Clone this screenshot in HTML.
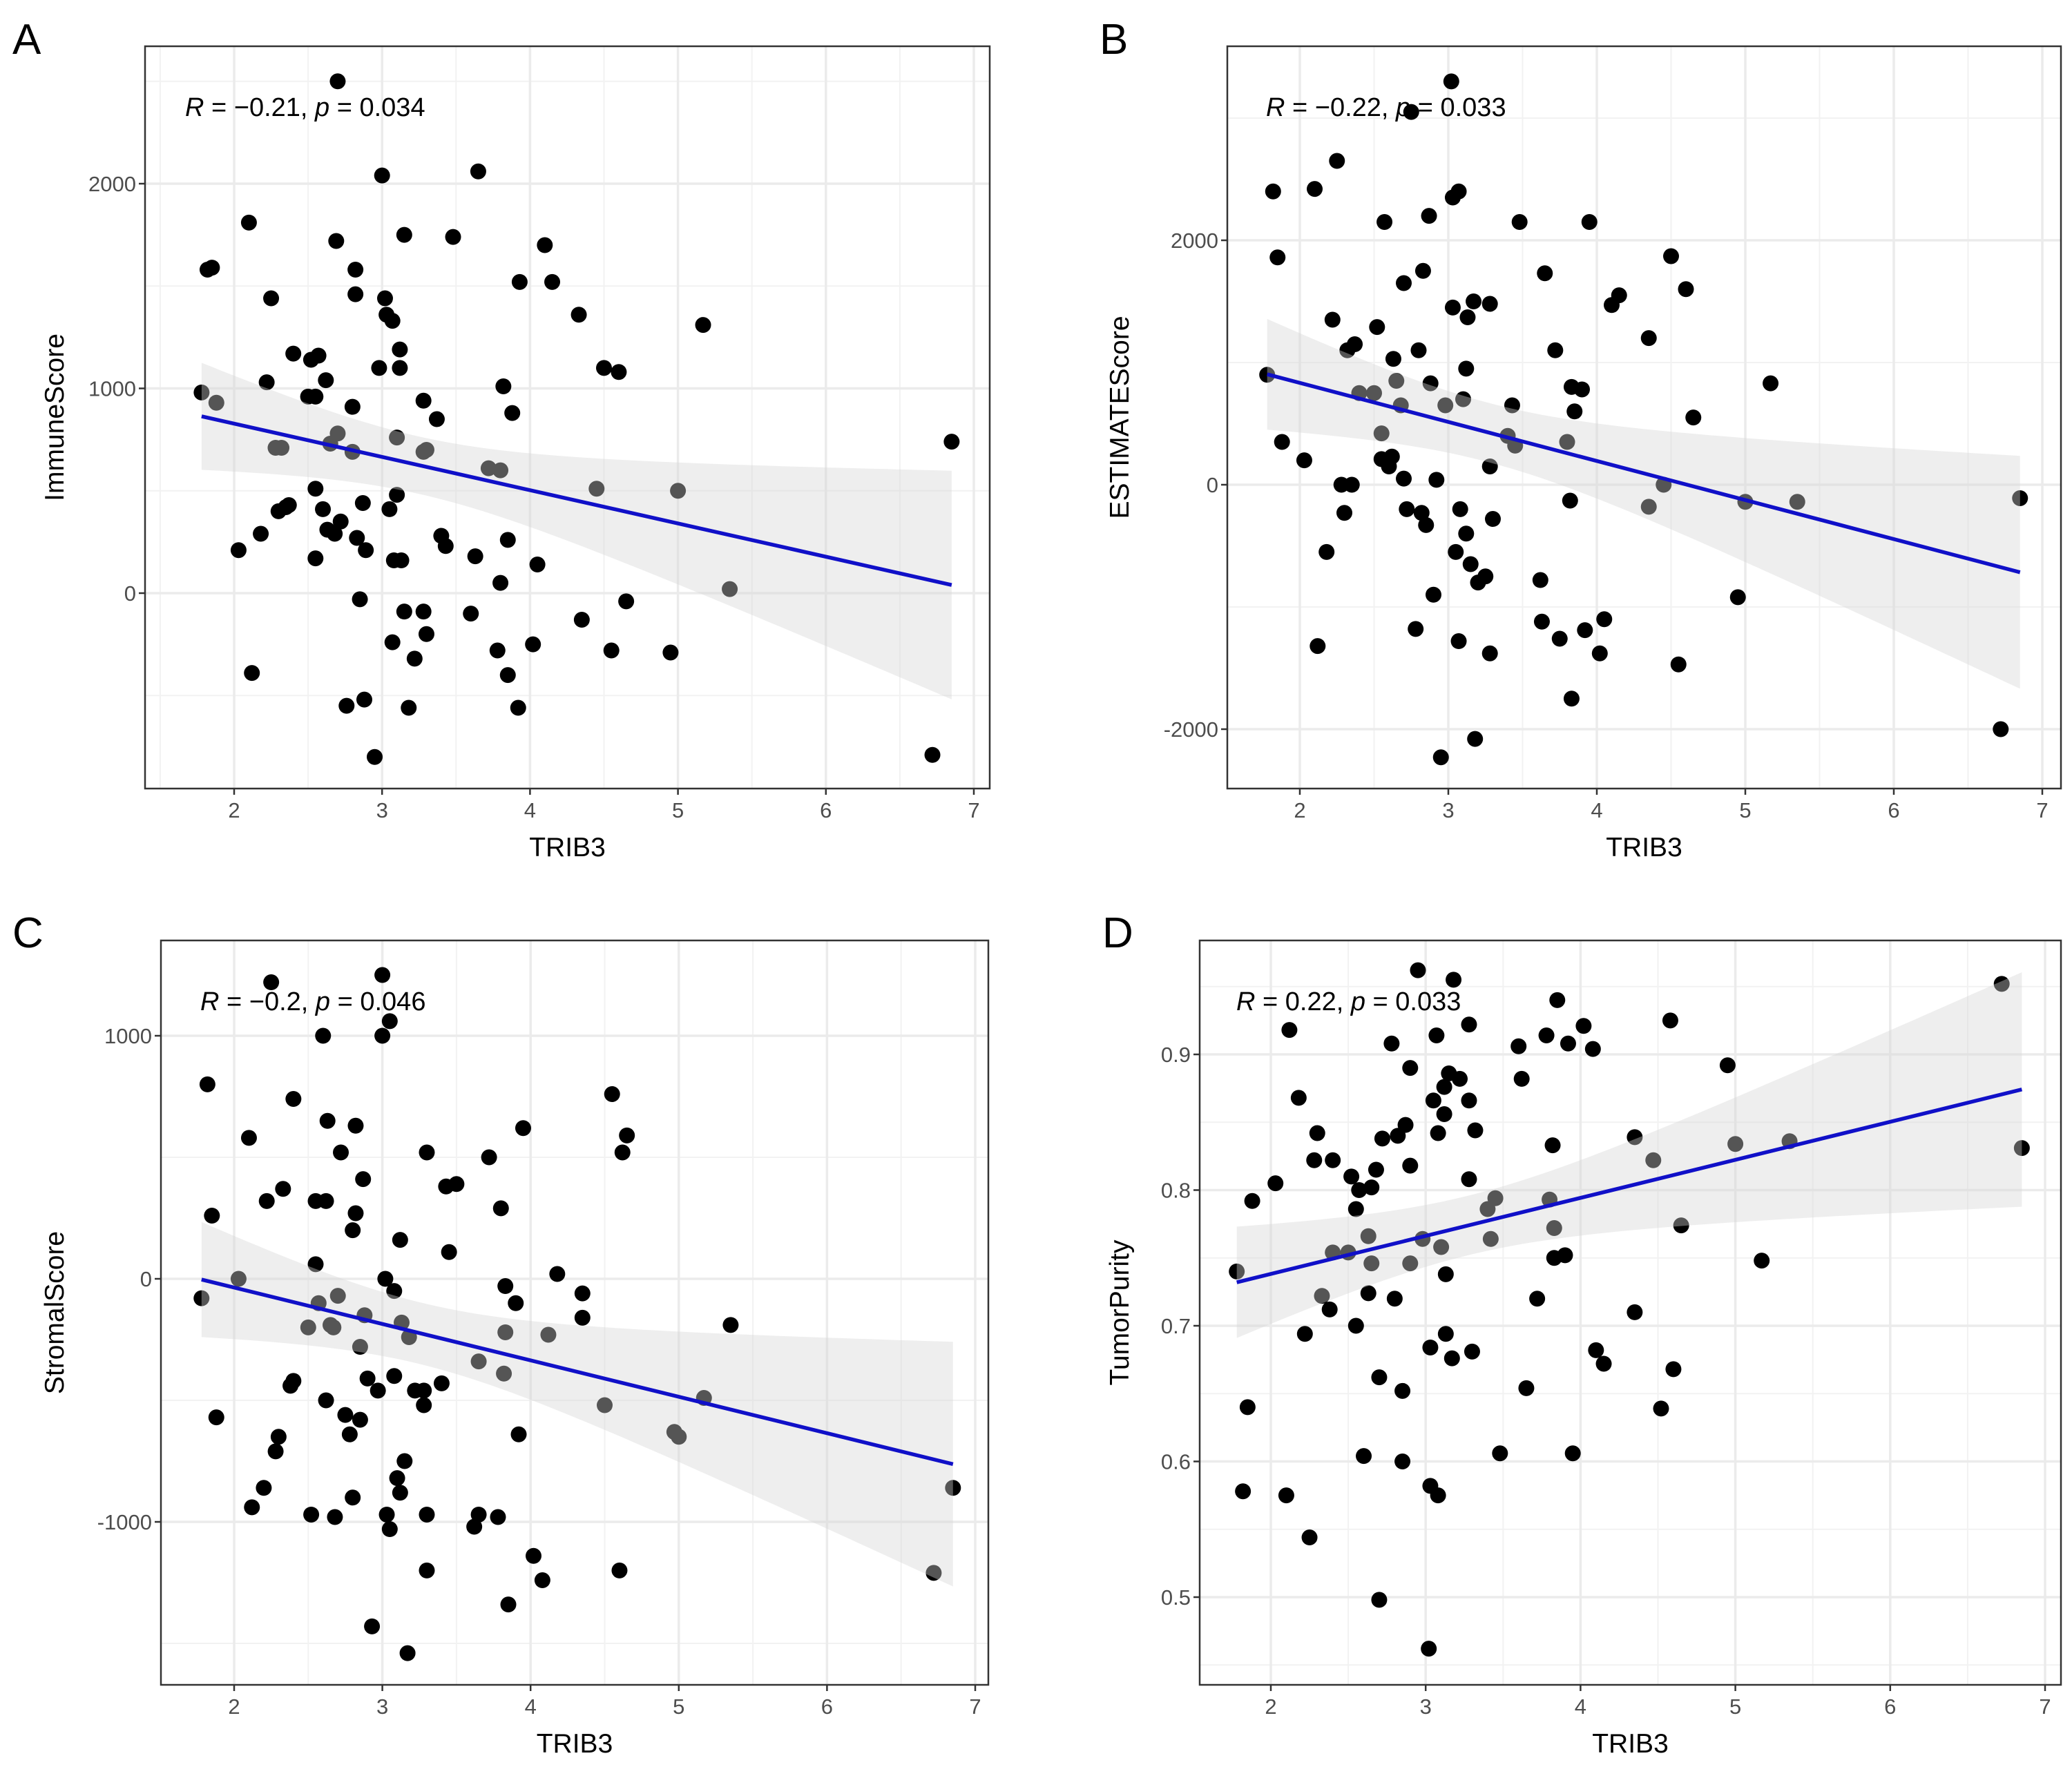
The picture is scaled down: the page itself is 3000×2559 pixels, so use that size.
<!DOCTYPE html>
<html><head><meta charset="utf-8"><style>
html,body{margin:0;padding:0;background:#fff;}
svg{display:block;font-family:"Liberation Sans",sans-serif;}
</style></head><body>
<svg id="fig" width="3000" height="2559" viewBox="0 0 3000 2559" xmlns="http://www.w3.org/2000/svg"></svg>
<script>
// ---- Data (TRIB3 expression vs scores) ----
const aX=[1.78,1.82,1.85,1.88,2.03,2.1,2.12,2.18,2.22,2.25,2.28,2.3,2.32,2.35,2.37,2.4,2.5,2.52,2.55,2.55,2.55,2.57,2.6,2.62,2.63,2.65,2.68,2.69,2.7,2.7,2.72,2.76,2.8,2.8,2.82,2.82,2.83,2.85,2.87,2.88,2.89,2.95,2.98,3.0,3.02,3.03,3.05,3.07,3.07,3.08,3.1,3.1,3.12,3.12,3.13,3.15,3.15,3.18,3.22,3.28,3.28,3.28,3.3,3.3,3.37,3.4,3.43,3.48,3.6,3.63,3.65,3.72,3.78,3.8,3.8,3.82,3.85,3.85,3.88,3.92,3.93,4.02,4.05,4.1,4.15,4.33,4.35,4.45,4.5,4.55,4.6,4.65,4.95,5.0,5.17,5.35,6.72,6.85];
const aY=[980,1580,1590,930,210,1810,-390,290,1030,1440,710,400,710,420,430,1170,960,1140,960,510,170,1160,410,1040,310,730,290,1720,2500,780,350,-550,910,690,1580,1460,270,-30,440,-520,210,-800,1100,2040,1440,1360,410,1330,-240,160,480,760,1100,1190,160,1750,-90,-560,-320,940,690,-90,700,-200,850,280,230,1740,-100,180,2060,610,-280,50,600,1010,260,-400,880,-560,1520,-250,140,1700,1520,1360,-130,510,1100,-280,1080,-40,-290,500,1310,20,-790,740];
const bX=[1.78,1.82,1.85,1.88,2.03,2.1,2.12,2.18,2.22,2.25,2.28,2.3,2.32,2.35,2.37,2.4,2.5,2.52,2.55,2.55,2.57,2.6,2.62,2.63,2.65,2.68,2.7,2.7,2.72,2.75,2.78,2.8,2.82,2.83,2.85,2.87,2.88,2.9,2.92,2.95,2.98,3.02,3.03,3.03,3.05,3.07,3.07,3.08,3.1,3.12,3.12,3.13,3.15,3.17,3.18,3.2,3.25,3.28,3.28,3.28,3.3,3.4,3.43,3.45,3.48,3.62,3.63,3.65,3.72,3.75,3.8,3.82,3.83,3.83,3.85,3.9,3.92,3.95,4.02,4.05,4.1,4.15,4.35,4.35,4.45,4.5,4.55,4.6,4.65,4.95,5.0,5.17,5.35,6.72,6.85];
const bY=[900,2400,1860,350,200,2420,-1320,-550,1350,2650,0,-230,1100,0,1150,750,750,1290,210,420,2150,150,230,1030,850,650,1650,50,-200,3050,-1180,1100,-230,1750,-330,2200,830,-900,40,-2230,650,3300,1450,2350,-550,2400,-1280,-200,700,-400,950,1370,-650,1500,-2080,-800,-750,1480,150,-1380,-280,400,650,320,2150,-780,-1120,1730,1100,-1260,350,-130,800,-1750,600,780,-1190,2150,-1380,-1100,1470,1550,1200,-180,0,1870,-1470,1600,550,-920,-140,830,-140,-2000,-110];
const cX=[1.78,1.82,1.85,1.88,2.03,2.1,2.12,2.2,2.22,2.25,2.28,2.3,2.33,2.38,2.4,2.4,2.5,2.52,2.55,2.55,2.57,2.6,2.62,2.62,2.63,2.65,2.67,2.68,2.7,2.72,2.75,2.78,2.8,2.8,2.82,2.82,2.85,2.85,2.87,2.88,2.9,2.93,2.97,3.0,3.0,3.02,3.03,3.05,3.05,3.08,3.08,3.1,3.12,3.12,3.13,3.15,3.17,3.18,3.22,3.28,3.28,3.3,3.3,3.3,3.4,3.43,3.45,3.5,3.62,3.65,3.65,3.72,3.78,3.8,3.82,3.83,3.83,3.85,3.9,3.92,3.95,4.02,4.08,4.12,4.18,4.35,4.35,4.5,4.55,4.6,4.62,4.65,4.97,5.0,5.17,5.35,6.72,6.85];
const cY=[-80,800,260,-570,0,580,-940,-860,320,1220,-710,-650,370,-440,740,-420,-200,-970,60,320,-100,1000,320,-500,650,-190,-200,-980,-70,520,-560,-640,200,-900,270,630,-280,-580,410,-150,-410,-1430,-460,1250,1000,0,-970,1060,-1030,-400,-50,-820,-880,160,-180,-750,-1540,-240,-460,-460,-520,-970,520,-1200,-430,380,110,390,-1020,-970,-340,500,-980,290,-390,-30,-220,-1340,-100,-640,620,-1140,-1240,-230,20,-60,-160,-520,760,-1200,520,590,-630,-650,-490,-190,-1210,-860];
const dX=[1.78,1.82,1.85,1.88,2.03,2.1,2.12,2.18,2.22,2.25,2.28,2.3,2.33,2.38,2.4,2.4,2.5,2.52,2.55,2.55,2.57,2.6,2.63,2.63,2.65,2.65,2.68,2.7,2.7,2.72,2.78,2.8,2.82,2.85,2.85,2.87,2.9,2.9,2.9,2.95,2.98,3.02,3.03,3.03,3.05,3.07,3.08,3.08,3.1,3.12,3.12,3.13,3.13,3.15,3.17,3.18,3.22,3.28,3.28,3.28,3.3,3.32,3.4,3.42,3.45,3.48,3.6,3.62,3.65,3.72,3.78,3.8,3.82,3.83,3.83,3.85,3.9,3.92,3.95,4.02,4.08,4.1,4.15,4.35,4.35,4.47,4.52,4.58,4.6,4.65,4.95,5.0,5.17,5.35,6.72,6.85];
const dY=[0.740,0.578,0.640,0.792,0.805,0.575,0.918,0.868,0.694,0.544,0.822,0.842,0.722,0.712,0.822,0.754,0.754,0.810,0.700,0.786,0.800,0.604,0.724,0.766,0.746,0.802,0.815,0.498,0.662,0.838,0.908,0.720,0.840,0.600,0.652,0.848,0.818,0.890,0.746,0.962,0.764,0.462,0.582,0.684,0.866,0.914,0.575,0.842,0.758,0.856,0.876,0.738,0.694,0.886,0.676,0.955,0.882,0.866,0.808,0.922,0.681,0.844,0.786,0.764,0.794,0.606,0.906,0.882,0.654,0.720,0.914,0.793,0.833,0.772,0.750,0.940,0.752,0.908,0.606,0.921,0.904,0.682,0.672,0.839,0.710,0.822,0.639,0.925,0.668,0.774,0.892,0.834,0.748,0.836,0.952,0.831];
const xTicks=[2,3,4,5,6,7];
const aTicks=[0,1000,2000], bTicks=[-2000,0,2000], cTicks=[-1000,0,1000], dTicks=[0.5,0.6,0.7,0.8,0.9];
const aLabels=["0","1000","2000"], bLabels=["-2000","0","2000"], cLabels=["-1000","0","1000"], dLabels=["0.5","0.6","0.7","0.8","0.9"];

const NS="http://www.w3.org/2000/svg";
const svg=document.getElementById('fig');
function mk(tag,attrs,parent){const e=document.createElementNS(NS,tag);for(const k in attrs)e.setAttribute(k,attrs[k]);(parent||svg).appendChild(e);return e;}

function panel(o){
  const g=mk('g',{});
  
  
  const sx=v=>o.x0p+(v-o.x0v)*(o.x1p-o.x0p)/(o.x1v-o.x0v);
  const sy=v=>o.y0p+(v-o.y0v)*(o.y1p-o.y0p)/(o.y1v-o.y0v);
  const L=o.box[0],T=o.box[1],R=o.box[2],B=o.box[3];
  mk('rect',{x:L,y:T,width:R-L,height:B-T,fill:'#fff'},g);
  const yStep=o.yt[1]-o.yt[0];
  const invy=p=>o.y0v+(p-o.y0p)*(o.y1v-o.y0v)/(o.y1p-o.y0p);
  const yh=Math.max(invy(B),invy(T));
  for(let v=1.5;v<=7.5;v+=1){const p=sx(v);if(p>L&&p<R)mk('line',{x1:p,x2:p,y1:T,y2:B,stroke:'#F2F2F2','stroke-width':2},g);}
  for(let v=o.yt[0]-yStep*2+yStep/2;v<=yh+yStep;v+=yStep){const p=sy(v);if(p>T&&p<B)mk('line',{x1:L,x2:R,y1:p,y2:p,stroke:'#F2F2F2','stroke-width':2},g);}
  xTicks.forEach(v=>{const p=sx(v);if(p>L&&p<R)mk('line',{x1:p,x2:p,y1:T,y2:B,stroke:'#EBEBEB','stroke-width':3.5},g);});
  o.yt.forEach(v=>{const p=sy(v);mk('line',{x1:L,x2:R,y1:p,y2:p,stroke:'#EBEBEB','stroke-width':3.5},g);});
  const n=o.X.length;
  for(let i=0;i<n;i++){
    const c=mk('circle',{cx:sx(o.X[i]),cy:sy(o.Y[i]),r:11.5,fill:'#000'},g);
    
    
  }
  let mx=0,my=0;for(let i=0;i<n;i++){mx+=o.X[i];my+=o.Y[i];}mx/=n;my/=n;
  let sxx=0,sxy=0;for(let i=0;i<n;i++){sxx+=(o.X[i]-mx)**2;sxy+=(o.X[i]-mx)*(o.Y[i]-my);}
  const b=sxy/sxx,a=my-b*mx;
  let sse=0;for(let i=0;i<n;i++)sse+=(o.Y[i]-a-b*o.X[i])**2;
  const s=Math.sqrt(sse/(n-2)),t=1.985;
  const xmin=Math.min(...o.X),xmax=Math.max(...o.X);
  const up=[],lo=[];
  for(let k=0;k<=80;k++){const x=xmin+(xmax-xmin)*k/80;const f=a+b*x;const se=s*Math.sqrt(1/n+(x-mx)**2/sxx);
    up.push(sx(x).toFixed(1)+','+sy(f+t*se).toFixed(1));lo.unshift(sx(x).toFixed(1)+','+sy(f-t*se).toFixed(1));}
  const rib=mk('polygon',{points:up.concat(lo).join(' '),fill:'#D4D4D4','fill-opacity':0.4},g);
  
  
  const ln=mk('line',{x1:sx(xmin),y1:sy(a+b*xmin),x2:sx(xmax),y2:sy(a+b*xmax),stroke:'#1010C8','stroke-width':5.5},g);
  
  
  mk('rect',{x:L,y:T,width:R-L,height:B-T,fill:'none',stroke:'#333','stroke-width':2.5},g);
  xTicks.forEach(v=>{const p=sx(v);mk('line',{x1:p,x2:p,y1:B,y2:B+9,stroke:'#333','stroke-width':2.5},g);
    const tx=mk('text',{x:p,y:B+42,'font-size':31,fill:'#4D4D4D','text-anchor':'middle'},g);tx.textContent=v;
    });
  o.yt.forEach((v,i)=>{const p=sy(v);mk('line',{x1:L-9,x2:L,y1:p,y2:p,stroke:'#333','stroke-width':2.5},g);
    const tx=mk('text',{x:L-13,y:p+11,'font-size':31,fill:'#4D4D4D','text-anchor':'end'},g);tx.textContent=o.yl[i];
    });
  const xt=mk('text',{x:(L+R)/2,y:B+98,'font-size':39,fill:'#000','text-anchor':'middle'},g);xt.textContent='TRIB3';
  
  const yt=mk('text',{x:0,y:0,'font-size':39,fill:'#000','text-anchor':'middle',transform:`translate(${o.ytx},${(T+B)/2}) rotate(-90)`},g);yt.textContent=o.ytitle;
  
  const st=mk('text',{x:o.stat[0],y:o.stat[1],'font-size':38,fill:'#000'},g);
  st.innerHTML=o.statHTML;
  
  const pl=mk('text',{x:o.letter[0],y:o.letter[1],'font-size':62,fill:'#000'},g);pl.textContent=o.letterT;
  
}

panel({name:'panel-a-immune-score',X:aX,Y:aY,box:[210,67,1433,1142],x0v:2,x0p:339,x1v:7,x1p:1410,y0v:0,y0p:859,y1v:2000,y1p:266,
  yt:aTicks,yl:aLabels,ytitle:'ImmuneScore',ytx:92,stat:[268,168],statHTML:'<tspan font-style="italic">R</tspan> = −0.21, <tspan font-style="italic">p</tspan> = 0.034',letter:[18,78],letterT:'A'});
panel({name:'panel-b-estimate-score',X:bX,Y:bY,box:[1777,67,2984,1142],x0v:2,x0p:1882,x1v:7,x1p:2957,y0v:0,y0p:702,y1v:2000,y1p:348,
  yt:bTicks,yl:bLabels,ytitle:'ESTIMATEScore',ytx:1634,stat:[1833,168],statHTML:'<tspan font-style="italic">R</tspan> = −0.22, <tspan font-style="italic">p</tspan> = 0.033',letter:[1592,78],letterT:'B'});
panel({name:'panel-c-stromal-score',X:cX,Y:cY,box:[233,1362,1431,2440],x0v:2,x0p:339,x1v:7,x1p:1412,y0v:0,y0p:1852,y1v:1000,y1p:1500,
  yt:cTicks,yl:cLabels,ytitle:'StromalScore',ytx:92,stat:[290,1463],statHTML:'<tspan font-style="italic">R</tspan> = −0.2, <tspan font-style="italic">p</tspan> = 0.046',letter:[18,1372],letterT:'C'});
panel({name:'panel-d-tumor-purity',X:dX,Y:dY,box:[1737,1362,2984,2440],x0v:2,x0p:1840,x1v:7,x1p:2961,y0v:0.5,y0p:2313,y1v:0.9,y1p:1527,
  yt:dTicks,yl:dLabels,ytitle:'TumorPurity',ytx:1634,stat:[1790,1463],statHTML:'<tspan font-style="italic">R</tspan> = 0.22, <tspan font-style="italic">p</tspan> = 0.033',letter:[1596,1372],letterT:'D'});
</script>
</body></html>
